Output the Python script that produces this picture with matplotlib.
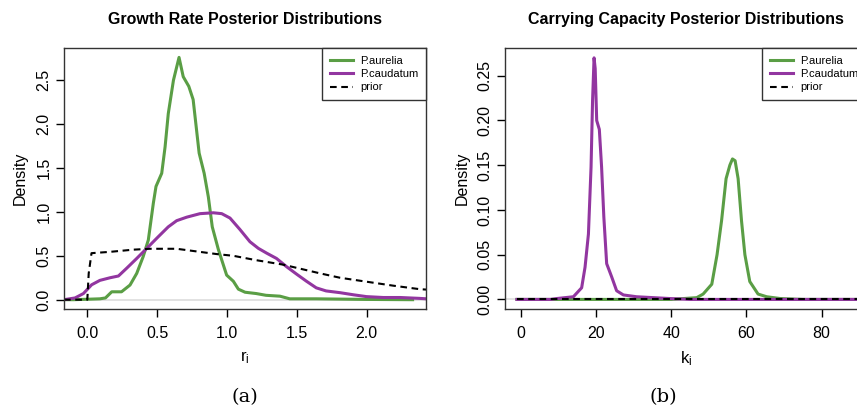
import matplotlib
matplotlib.use("Agg")
import matplotlib.pyplot as plt

# ---- panel (a): growth rate r_i ----
r_aurelia_x = [-0.167, -0.1, 0.0, 0.09, 0.13, 0.175, 0.245, 0.306, 0.354, 0.40, 0.437, 0.473,
               0.492, 0.533, 0.557, 0.580, 0.617, 0.657, 0.687, 0.727, 0.758, 0.801, 0.837,
               0.867, 0.895, 0.939, 0.998, 1.046, 1.082, 1.13, 1.21, 1.28, 1.38, 1.45, 1.64,
               2.0, 2.33]
r_aurelia_y = [0.0, 0.0, 0.005, 0.01, 0.02, 0.09, 0.09, 0.167, 0.30, 0.49, 0.68, 1.10,
               1.29, 1.44, 1.74, 2.12, 2.50, 2.76, 2.54, 2.43, 2.28, 1.67, 1.44,
               1.17, 0.83, 0.57, 0.28, 0.21, 0.12, 0.085, 0.07, 0.05, 0.04, 0.01, 0.01,
               0.003, 0.0]

r_caudatum_x = [-0.167, -0.088, -0.028, 0.031, 0.09, 0.163, 0.223, 0.283, 0.354, 0.426, 0.510,
                0.58, 0.640, 0.712, 0.807, 0.903, 0.963, 1.022, 1.093, 1.165, 1.225, 1.285,
                1.355, 1.428, 1.5, 1.57, 1.64, 1.71, 1.81, 1.91, 2.0, 2.12, 2.24, 2.38, 2.43]
r_caudatum_y = [0.0, 0.02, 0.07, 0.17, 0.22, 0.25, 0.27, 0.36, 0.47, 0.585, 0.72,
                0.83, 0.90, 0.94, 0.98, 0.99, 0.98, 0.93, 0.80, 0.66, 0.585, 0.53,
                0.47, 0.375, 0.29, 0.21, 0.135, 0.10, 0.08, 0.055, 0.035, 0.025, 0.025, 0.015, 0.01]

r_prior_x = [-0.167, 0.0, 0.01, 0.03, 0.163, 0.33, 0.45, 0.64, 0.758, 0.925, 1.046, 1.21,
             1.40, 1.52, 1.667, 1.81, 2.0, 2.19, 2.38, 2.43]
r_prior_y = [0.0, 0.0, 0.30, 0.53, 0.545, 0.57, 0.58, 0.58, 0.555, 0.52, 0.50, 0.45,
             0.40, 0.355, 0.30, 0.25, 0.205, 0.16, 0.12, 0.115]

# ---- panel (b): carrying capacity k_i ----
k_aurelia_x = [-1, 40, 46.8, 48.5, 50.8, 52.2, 53.4, 54.6, 55.6, 56.3, 57.0, 57.8, 58.7,
               59.6, 60.9, 63.1, 65.4, 69, 75, 100]
k_aurelia_y = [0.0, 0.0, 0.002, 0.006, 0.017, 0.05, 0.088, 0.135, 0.15, 0.157, 0.155, 0.135, 0.088,
               0.05, 0.02, 0.006, 0.003, 0.001, 0.0, 0.0]

k_caudatum_x = [-1, 8, 9.6, 14, 16.2, 17.1, 18.0, 18.7, 19.1, 19.5, 19.8, 20.2, 20.9, 21.5,
                22.1, 22.85, 24.2, 25.5, 27.3, 30.8, 35.2, 39.6, 45, 100]
k_caudatum_y = [0.0, 0.0, 0.001, 0.003, 0.013, 0.036, 0.073, 0.148, 0.222, 0.27, 0.258, 0.20, 0.19, 0.148,
                0.092, 0.04, 0.025, 0.0097, 0.005, 0.003, 0.002, 0.001, 0.0, 0.0]

k_prior_x = [-1, 100]
k_prior_y = [0.0002, 0.0002]

labels = ["P.aurelia", "P.caudatum", "prior"]
green = "#5a9e45"
purple = "#9236a0"

plt.rcParams["font.family"] = ["Liberation Sans", "DejaVu Sans"]
plt.rcParams["mathtext.default"] = "regular"

fig = plt.figure(figsize=(8.57, 4.07), dpi=100)
ax1 = fig.add_axes([64 / 857, 98 / 407, 362 / 857, 261 / 407])
ax2 = fig.add_axes([505.3 / 857, 98 / 407, 360.7 / 857, 261 / 407])


def style_axis(ax):
    for sp in ax.spines.values():
        sp.set_linewidth(1.0)
        sp.set_color("#333333")
    ax.tick_params(direction="out", length=6, width=1, labelsize=11.5, pad=3)
    ax.tick_params(axis="x", pad=6)
    for lab in ax.get_yticklabels():
        lab.set_rotation(90)
        lab.set_va("center")


# panel (a)
ax1.axhline(0, color="#dddddd", lw=1.2, zorder=1)
ax1.plot(r_aurelia_x, r_aurelia_y, color=green, lw=2.2, label=labels[0])
ax1.plot(r_caudatum_x, r_caudatum_y, color=purple, lw=2.2, label=labels[1])
ax1.plot(r_prior_x, r_prior_y, color="black", lw=1.5, dashes=(3.2, 2.2), label=labels[2])
ax1.set_xlim(-0.167, 2.426)
ax1.set_ylim(-0.106, 2.867)
ax1.set_xticks([0.0, 0.5, 1.0, 1.5, 2.0])
ax1.set_xticklabels(["0.0", "0.5", "1.0", "1.5", "2.0"])
ax1.set_yticks([0.0, 0.5, 1.0, 1.5, 2.0, 2.5])
ax1.set_yticklabels(["0.0", "0.5", "1.0", "1.5", "2.0", "2.5"])
ax1.set_xlabel("$r_i$", fontsize=12, labelpad=6)
ax1.set_ylabel("Density", fontsize=11.5, labelpad=6)
ax1.set_title("Growth Rate Posterior Distributions", fontsize=11.5, fontweight="bold", pad=17)
style_axis(ax1)

# panel (b)
ax2.axhline(0, color="#dddddd", lw=1.2, zorder=1)
ax2.plot(k_aurelia_x, k_aurelia_y, color=green, lw=2.2, label=labels[0])
ax2.plot(k_caudatum_x, k_caudatum_y, color=purple, lw=2.2, label=labels[1])
ax2.plot(k_prior_x, k_prior_y, color="black", lw=1.5, dashes=(3.2, 2.2), label=labels[2])
ax2.set_xlim(-4.1, 91.8)
ax2.set_ylim(-0.0107, 0.281)
ax2.set_xticks([0, 20, 40, 60, 80])
ax2.set_yticks([0.0, 0.05, 0.10, 0.15, 0.20, 0.25])
ax2.set_yticklabels(["0.00", "0.05", "0.10", "0.15", "0.20", "0.25"])
ax2.set_xlabel("$k_i$", fontsize=12, labelpad=6)
ax2.set_ylabel("Density", fontsize=11.5, labelpad=6)
ax2.set_title("Carrying Capacity Posterior Distributions", fontsize=11.5, fontweight="bold", pad=17)
style_axis(ax2)

for ax in (ax1, ax2):
    leg = ax.legend(loc="upper right", bbox_to_anchor=(1, 1), borderaxespad=0, fontsize=8,
                    fancybox=False, framealpha=1, edgecolor="#333333", handlelength=2.1,
                    handletextpad=0.6, labelspacing=0.3, borderpad=0.7)
    leg.get_frame().set_linewidth(1.0)

fig.text(245 / 857, 1 - 397 / 407, "(a)", ha="center", va="center", fontsize=14,
         family="DejaVu Serif")
fig.text(663 / 857, 1 - 397 / 407, "(b)", ha="center", va="center", fontsize=14,
         family="DejaVu Serif")

fig.savefig("out.png", dpi=100)
